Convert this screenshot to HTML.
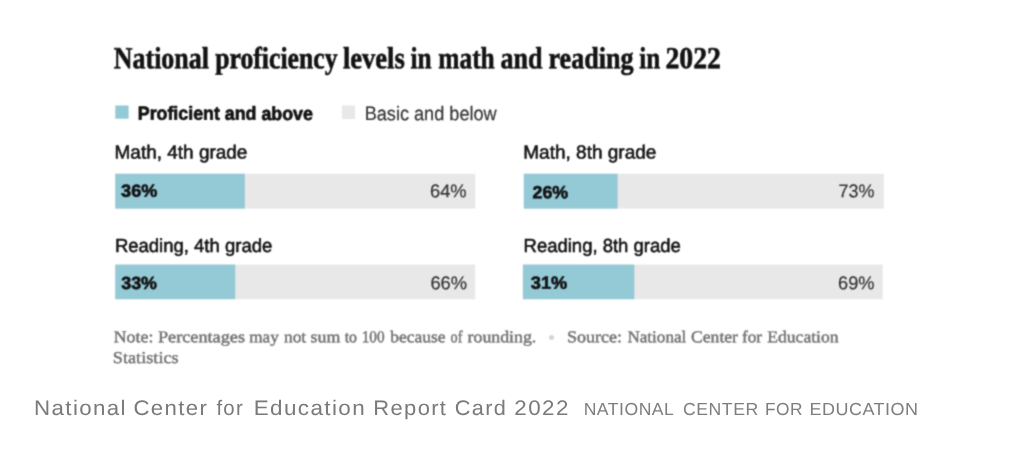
<!DOCTYPE html>
<html lang="en">
<head>
<meta charset="utf-8">
<title>National proficiency levels in math and reading in 2022</title>
<style>
html,body{margin:0;padding:0;background:#fff;}
body{width:1022px;height:455px;position:relative;overflow:hidden;}
.grp{margin:0;padding:0;font-size:0;}
.t{position:absolute;display:block;white-space:nowrap;transform-origin:0 0;line-height:1;margin:0;text-rendering:geometricPrecision;}
#fig{position:absolute;left:0;top:0;width:1022px;height:380px;background:#fff;}
#bars{position:absolute;left:0;top:0;}
.dot{position:absolute;border-radius:50%;background:#d4d4d4;}
.ttl{font-family:'Liberation Serif', serif;font-weight:700;font-size:30.7px;color:#121212;-webkit-text-stroke:0.6px #121212;}
.lgb{font-family:'Liberation Sans', sans-serif;font-weight:700;font-size:19.0px;color:#121212;-webkit-text-stroke:0.7px #121212;}
.lgr{font-family:'Liberation Sans', sans-serif;font-weight:400;font-size:19.8px;color:#333;-webkit-text-stroke:0.2px #333;}
.lab{font-family:'Liberation Sans', sans-serif;font-weight:400;font-size:18.9px;color:#121212;-webkit-text-stroke:0.55px #121212;}
.vb{font-family:'Liberation Sans', sans-serif;font-weight:700;font-size:17.6px;color:#121212;-webkit-text-stroke:0.6px #121212;}
.vr{font-family:'Liberation Sans', sans-serif;font-weight:400;font-size:18.5px;color:#333;-webkit-text-stroke:0.2px #333;}
.nt{font-family:'Liberation Serif', serif;font-weight:400;font-size:16.6px;color:#727272;-webkit-text-stroke:0.45px #727272;}
.cap{font-family:'Liberation Sans', sans-serif;font-weight:400;font-size:21px;color:#7a7a7a;letter-spacing:1.3px;}
.sc{font-family:'Liberation Sans', sans-serif;font-weight:400;font-size:17.4px;color:#7e7e7e;letter-spacing:0.5px;}
</style>
</head>
<body>
<svg width="0" height="0" style="position:absolute"><defs><filter id="soft" x="0" y="0" width="100%" height="100%" color-interpolation-filters="sRGB"><feConvolveMatrix order="3" kernelMatrix="0.0400 0.1200 0.0400 0.1200 0.3600 0.1200 0.0400 0.1200 0.0400" edgeMode="duplicate" preserveAlpha="false"/></filter></defs></svg>
<div id="fig" style="filter:url(#soft)">
<svg id="bars" width="1022" height="380" viewBox="0 0 1022 380">
<rect id="sq1" x="115.30" y="105.50" width="13.30" height="13.20" fill="#94c9d6"/>
<rect id="sq2" x="341.90" y="105.50" width="13.20" height="13.50" fill="#e8e8e8"/>
<rect id="b1g" x="115.30" y="173.75" width="360.00" height="34.85" fill="#e8e8e8"/>
<rect id="b1b" x="115.30" y="173.75" width="129.50" height="34.85" fill="#94c9d6"/>
<rect id="b2g" x="523.80" y="173.75" width="360.00" height="34.85" fill="#e8e8e8"/>
<rect id="b2b" x="523.80" y="173.75" width="93.80" height="34.85" fill="#94c9d6"/>
<rect id="b3g" x="115.20" y="264.60" width="360.00" height="34.60" fill="#e8e8e8"/>
<rect id="b3b" x="115.20" y="264.60" width="120.00" height="34.60" fill="#94c9d6"/>
<rect id="b4g" x="522.90" y="264.60" width="359.80" height="34.60" fill="#e8e8e8"/>
<rect id="b4b" x="522.90" y="264.60" width="111.40" height="34.60" fill="#94c9d6"/>
</svg>
<div class="dot" id="dot" style="left:549.3px;top:335.1px;width:5.2px;height:5.2px"></div>
<h1 class="grp" id="ttl">
<span class="t ttl" id="t1" style="left:113px;top:43px;transform:translate(0.84px,0.14px) rotate(0.04deg) scaleX(0.8449)">National</span>
<span class="t ttl" id="t2" style="left:215px;top:43px;transform:translate(0.24px,0.14px) rotate(0.04deg) scaleX(0.8374)">proficiency</span>
<span class="t ttl" id="t3" style="left:342px;top:43px;transform:translate(0.98px,0.14px) rotate(0.04deg) scaleX(0.8640)">levels</span>
<span class="t ttl" id="t4" style="left:410px;top:43px;transform:translate(0.52px,0.14px) rotate(0.04deg) scaleX(0.8246)">in</span>
<span class="t ttl" id="t5" style="left:438px;top:43px;transform:translate(0.31px,0.14px) rotate(0.04deg) scaleX(0.8272)">math</span>
<span class="t ttl" id="t6" style="left:500px;top:43px;transform:translate(0.64px,0.14px) rotate(0.04deg) scaleX(0.8472)">and</span>
<span class="t ttl" id="t7" style="left:548px;top:43px;transform:translate(0.49px,0.14px) rotate(0.04deg) scaleX(0.8497)">reading</span>
<span class="t ttl" id="t8" style="left:639px;top:43px;transform:translate(0.25px,0.14px) rotate(0.04deg) scaleX(0.8217)">in</span>
<span class="t ttl" id="t9" style="left:665px;top:43px;transform:translate(0.50px,0.14px) rotate(0.04deg) scaleX(0.9041)">2022</span>
</h1>
<div class="grp" id="legend">
<span class="t lgb" id="lg1" style="left:137px;top:104px;transform:translate(0.76px,0.79px) rotate(0.04deg) scaleX(0.9373)">Proficient and above</span>
<span class="t lgr" id="lg2" style="left:364px;top:105px;transform:translate(0.64px,0.12px) rotate(0.04deg) scaleX(0.9168)">Basic and below</span>
</div>
<div class="grp" id="chart">
<span class="t lab" id="l1" style="left:114px;top:144px;transform:translate(0.58px,0.40px) rotate(0.04deg) scaleX(1.0039)">Math, 4th grade</span>
<span class="t lab" id="l2" style="left:523px;top:144px;transform:translate(0.31px,0.40px) rotate(0.04deg) scaleX(1.0056)">Math, 8th grade</span>
<span class="t lab" id="l3" style="left:114px;top:237px;transform:translate(0.91px,0.94px) rotate(0.04deg) scaleX(0.9792)">Reading, 4th grade</span>
<span class="t lab" id="l4" style="left:523px;top:237px;transform:translate(0.58px,0.94px) rotate(0.04deg) scaleX(0.9783)">Reading, 8th grade</span>
<span class="t vb" id="v1" style="left:121px;top:182px;transform:translate(0.13px,0.78px) rotate(0.04deg) scaleX(1.0283)">36%</span>
<span class="t vr" id="v2" style="left:429px;top:182px;transform:translate(0.97px,0.30px) rotate(0.04deg) scaleX(0.9901)">64%</span>
<span class="t vb" id="v3" style="left:532px;top:184px;transform:translate(0.50px,0.23px) rotate(0.04deg) scaleX(1.0134)">26%</span>
<span class="t vr" id="v4" style="left:838px;top:182px;transform:translate(0.62px,0.26px) rotate(0.04deg) scaleX(0.9718)">73%</span>
<span class="t vb" id="v5" style="left:121px;top:275px;transform:translate(0.25px,0.06px) rotate(0.04deg) scaleX(1.0148)">33%</span>
<span class="t vr" id="v6" style="left:430px;top:274px;transform:translate(0.41px,0.33px) rotate(0.04deg) scaleX(0.9896)">66%</span>
<span class="t vb" id="v7" style="left:530px;top:274px;transform:translate(0.86px,0.72px) rotate(0.04deg) scaleX(1.0338)">31%</span>
<span class="t vr" id="v8" style="left:838px;top:274px;transform:translate(0.08px,0.33px) rotate(0.04deg) scaleX(0.9857)">69%</span>
</div>
<p class="grp" id="note">
<span class="t nt" id="n1a" style="left:113px;top:329px;transform:translate(0.76px,0.22px) rotate(0.04deg) scaleX(1.0743)">Note:</span>
<span class="t nt" id="n1b" style="left:157px;top:329px;transform:translate(0.99px,0.22px) rotate(0.04deg) scaleX(1.0979)">Percentages</span>
<span class="t nt" id="n1c" style="left:249px;top:329px;transform:translate(0.25px,0.22px) rotate(0.04deg) scaleX(1.0357)">may</span>
<span class="t nt" id="n1d" style="left:284px;top:329px;transform:translate(0.01px,0.22px) rotate(0.04deg) scaleX(1.0446)">not</span>
<span class="t nt" id="n1e" style="left:310px;top:329px;transform:translate(0.54px,0.22px) rotate(0.04deg) scaleX(1.0743)">sum</span>
<span class="t nt" id="n1f" style="left:344px;top:329px;transform:translate(0.69px,0.22px) rotate(0.04deg) scaleX(0.9561)">to</span>
<span class="t nt" id="n1g" style="left:361px;top:329px;transform:translate(0.71px,0.22px) rotate(0.04deg) scaleX(0.9209)">100</span>
<span class="t nt" id="n1h" style="left:390px;top:329px;transform:translate(0.27px,0.22px) rotate(0.04deg) scaleX(1.0511)">because</span>
<span class="t nt" id="n1i" style="left:450px;top:329px;transform:translate(0.56px,0.22px) rotate(0.04deg) scaleX(0.8610)">of</span>
<span class="t nt" id="n1j" style="left:467px;top:329px;transform:translate(0.59px,0.22px) rotate(0.04deg) scaleX(1.0730)">rounding.</span>
<span class="t nt" id="n2a" style="left:566px;top:329px;transform:translate(0.91px,0.22px) rotate(0.04deg) scaleX(1.0892)">Source:</span>
<span class="t nt" id="n2b" style="left:627px;top:329px;transform:translate(0.45px,0.22px) rotate(0.04deg) scaleX(1.0292)">National</span>
<span class="t nt" id="n2c" style="left:691px;top:329px;transform:translate(0.12px,0.22px) rotate(0.04deg) scaleX(1.0578)">Center</span>
<span class="t nt" id="n2d" style="left:741px;top:329px;transform:translate(0.97px,0.22px) rotate(0.04deg) scaleX(1.0339)">for</span>
<span class="t nt" id="n2e" style="left:767px;top:329px;transform:translate(0.28px,0.22px) rotate(0.04deg) scaleX(1.0594)">Education</span>
<span class="t nt" id="n3" style="left:112px;top:350px;transform:translate(0.77px,0.06px) rotate(0.04deg) scaleX(1.1000)">Statistics</span>
</p>
</div>
<p class="grp" id="caption">
<span class="t cap" id="c1" style="left:34px;top:398px;transform:translate(0.11px,0px) scaleX(1.0614)">National</span>
<span class="t cap" id="c2" style="left:133px;top:398px;transform:translate(0.47px,0px) scaleX(1.0559)">Center</span>
<span class="t cap" id="c3" style="left:216px;top:398px;transform:translate(0.43px,0px) scaleX(0.9701)">for</span>
<span class="t cap" id="c4" style="left:253px;top:398px;transform:translate(0.68px,0px) scaleX(1.0693)">Education</span>
<span class="t cap" id="c5" style="left:373px;top:398px;transform:translate(0.31px,0px) scaleX(1.0447)">Report</span>
<span class="t cap" id="c6" style="left:454px;top:398px;transform:translate(0.80px,0px) scaleX(1.0342)">Card</span>
<span class="t cap" id="c7" style="left:514px;top:398px;transform:translate(0.35px,0px) scaleX(1.0667)">2022</span>
<span class="t sc" id="s1" style="left:583px;top:401px;transform:translate(0.65px,0px) scaleX(1.0120)">NATIONAL</span>
<span class="t sc" id="s2" style="left:683px;top:401px;transform:translate(0.06px,0px) scaleX(1.0147)">CENTER</span>
<span class="t sc" id="s3" style="left:764px;top:401px;transform:translate(0.99px,0px) scaleX(0.9941)">FOR</span>
<span class="t sc" id="s4" style="left:809px;top:401px;transform:translate(0.39px,0px) scaleX(1.0342)">EDUCATION</span>
</p>
</body>
</html>
